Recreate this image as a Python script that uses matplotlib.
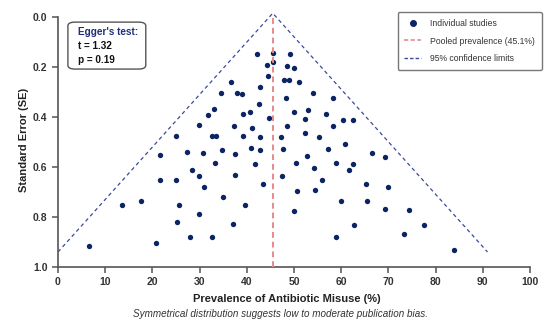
import matplotlib
matplotlib.use("Agg")
import matplotlib.pyplot as plt
from matplotlib.patches import FancyBboxPatch
from matplotlib.lines import Line2D
import numpy as np

plt.rcParams['font.family'] = ['Liberation Sans', 'DejaVu Sans']

# prevalence (%) and standard error of each study
prevalence = [42.2, 45.6, 49.2, 44.3, 45.6, 48.6, 50.1, 44.5, 47.8, 48.9,
              51.0, 36.7, 42.9, 34.6, 37.9, 39.0, 54.0, 48.2, 58.2, 42.6,
              33.0, 31.8, 39.1, 40.6, 50.1, 53.0, 56.7, 44.7, 52.3, 60.4,
              62.6, 37.2, 41.2, 48.5, 58.3, 52.4, 32.6, 33.5, 39.2, 42.7,
              47.3, 55.4, 60.7, 34.8, 37.4, 40.9, 42.8, 47.7, 57.1, 52.8,
              33.2, 41.7, 50.5, 54.3, 58.8, 62.4, 61.7, 37.6, 47.5, 55.9,
              31.0, 43.4, 35.0, 50.7, 54.4, 39.6, 60.0, 50.1, 37.0, 62.8,
              32.6, 59.0, 66.5, 69.3, 65.3, 70.0, 65.4, 69.3, 74.3, 77.6,
              73.2, 84.0, 21.7, 27.3, 30.8, 21.6, 24.9, 28.4, 29.9, 13.5,
              17.5, 25.7, 29.8, 25.3, 28.0, 6.5, 20.7, 29.8, 24.9]
std_err = [0.147, 0.144, 0.147, 0.193, 0.181, 0.197, 0.204, 0.237, 0.251, 0.251,
           0.261, 0.261, 0.279, 0.303, 0.305, 0.309, 0.305, 0.325, 0.325, 0.349,
           0.368, 0.392, 0.387, 0.381, 0.381, 0.371, 0.389, 0.405, 0.407, 0.411,
           0.411, 0.436, 0.444, 0.437, 0.437, 0.464, 0.476, 0.477, 0.475, 0.480,
           0.479, 0.480, 0.508, 0.533, 0.547, 0.525, 0.533, 0.529, 0.527, 0.557,
           0.585, 0.587, 0.585, 0.604, 0.583, 0.587, 0.612, 0.633, 0.636, 0.651,
           0.679, 0.667, 0.720, 0.696, 0.692, 0.752, 0.736, 0.776, 0.827, 0.831,
           0.879, 0.880, 0.544, 0.561, 0.667, 0.679, 0.736, 0.767, 0.772, 0.831,
           0.867, 0.931, 0.552, 0.540, 0.546, 0.651, 0.651, 0.613, 0.636, 0.752,
           0.735, 0.752, 0.789, 0.820, 0.879, 0.917, 0.905, 0.433, 0.475]

pooled = 45.1
pooled_line_x = 45.5
funnel_x = [0, 45.5, 91.0]
funnel_se = [0.94, -0.015, 0.94]
egger_t = 1.32
egger_p = 0.19

navy = '#0b2463'
fig = plt.figure(figsize=(5.44, 3.22), dpi=100)
ax = fig.add_axes([0.1066, 0.1708, 0.8677, 0.7881])

ax.plot(funnel_x, funnel_se, color='#3a4a9c', lw=0.9, ls=(0, (3, 2.5)), zorder=2)
ax.scatter(prevalence, std_err, s=15, color=navy, zorder=3, linewidths=0)
ax.axvline(pooled_line_x, ymin=0, ymax=0.985, color='#e88a8a', lw=1.4, ls=(0, (3, 2)), zorder=4)

ax.set_xlim(0, 100)
ax.set_ylim(1.0, -0.015)
ax.set_xticks(np.arange(0, 101, 10))
ax.set_yticks([0.0, 0.2, 0.4, 0.6, 0.8, 1.0])
ax.set_yticklabels(['0.0', '0.2', '0.4', '0.6', '0.8', '1.0'])
for s in ['top', 'right']:
    ax.spines[s].set_visible(False)
for s in ['left', 'bottom']:
    ax.spines[s].set_color('#555555')
    ax.spines[s].set_linewidth(1.2)
ax.spines['left'].set_bounds(0, 1)
ax.tick_params(colors='#555555', length=4, width=1.1, labelsize=7.5, labelcolor='#333333')
for lab in ax.get_xticklabels() + ax.get_yticklabels():
    lab.set_fontweight('bold')

ax.set_xlabel('Prevalence of Antibiotic Misuse (%)', fontsize=8, fontweight='bold', color='#222222',
              labelpad=5, x=0.484)
ax.set_ylabel('Standard Error (SE)', fontsize=8, fontweight='bold', color='#222222', labelpad=3)

# Egger's test box
box = FancyBboxPatch((0.021, 0.780), 0.165, 0.185, boxstyle='round,pad=0,rounding_size=0.015',
                     transform=ax.transAxes, facecolor='white', edgecolor='#555555', lw=1.0, zorder=5)
ax.add_patch(box)
ax.text(0.042, 0.926, "Egger's test:", transform=ax.transAxes, fontsize=7.2, fontweight='bold',
        color='#1f2f7a', va='center', zorder=6)
ax.text(0.042, 0.870, f't = {egger_t:.2f}', transform=ax.transAxes, fontsize=7.2, fontweight='bold',
        color='#111111', va='center', zorder=6)
ax.text(0.042, 0.816, f'p = {egger_p:.2f}', transform=ax.transAxes, fontsize=7.2, fontweight='bold',
        color='#111111', va='center', zorder=6)

handles = [
    Line2D([], [], marker='o', ls='none', color=navy, markersize=4),
    Line2D([], [], color='#e88a8a', lw=1.2, ls=(0, (2.5, 1.5))),
    Line2D([], [], color='#3a4a9c', lw=1.0, ls=(0, (2.5, 1.5))),
]
labels = ['Individual studies', f'Pooled prevalence ({pooled}%)', '95% confidence limits']
leg = ax.legend(handles, labels, loc='upper right', bbox_to_anchor=(542 / 544, 1 - 12 / 322),
                bbox_transform=fig.transFigure, fontsize=6.2, frameon=True, fancybox=True,
                edgecolor='#555555', handlelength=1.9, handletextpad=1.1, labelspacing=1.0,
                borderpad=0.8, borderaxespad=0)
leg.get_frame().set_linewidth(1.0)
for t in leg.get_texts():
    t.set_color('#333333')

fig.text(0.515, 0.025, 'Symmetrical distribution suggests low to moderate publication bias.',
         ha='center', va='center', fontsize=7.1, style='italic', color='#333333')

fig.savefig('out.png', dpi=100)
